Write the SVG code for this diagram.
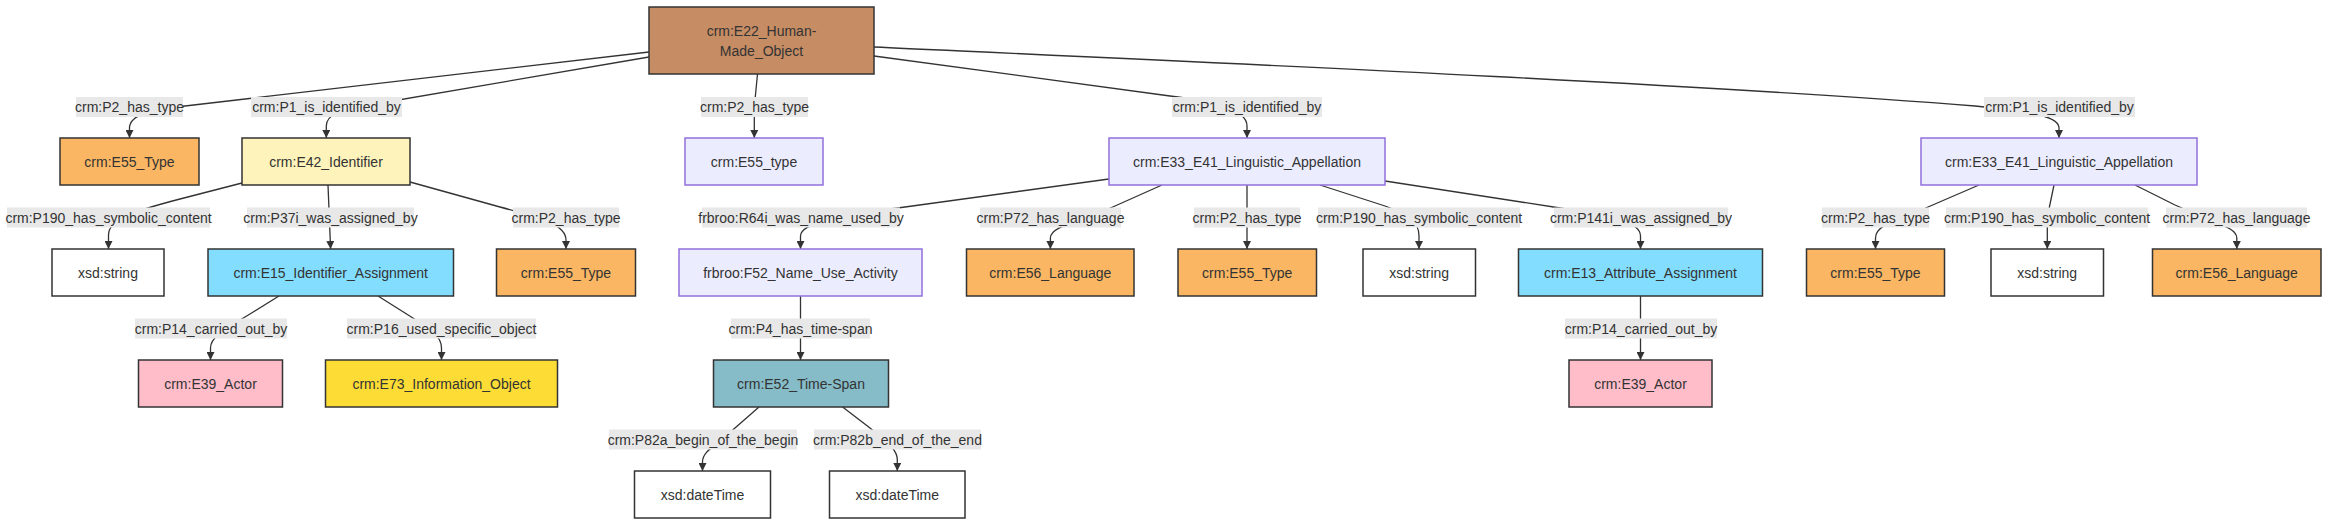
<svg xmlns="http://www.w3.org/2000/svg" width="2352" height="531" viewBox="0 0 2352 531">
<style>
text{font-family:"Liberation Sans",Arial,sans-serif;font-size:14px;fill:#333;text-anchor:middle}
.n{stroke:#333;stroke-width:1.5}
.lav{fill:#ECECFF;stroke:#9370DB;stroke-width:1.5}
.wht{fill:#FFFFFF}
.typ{fill:#FAB662}
.idf{fill:#FEF3BA}
.asg{fill:#82DDFF}
.act{fill:#FFBDCA}
.inf{fill:#FDDD35}
.tsp{fill:#86BBC8}
.hmo{fill:#C68C63}
.e{fill:none;stroke:#333;stroke-width:1.3;marker-end:url(#arr)}
.lb{fill:#E8E8E8}
</style>
<defs>
<marker id="arr" viewBox="0 0 10 10" refX="10" refY="5" markerUnits="userSpaceOnUse" markerWidth="8" markerHeight="8" orient="auto">
<path d="M0,0 L10,5 L0,10 z" fill="#333"/>
</marker>
</defs>
<g id="connectors">
<path class="e" d="M649,52 L185,106 C150,110 129.5,115 129.5,128 L129.5,138"/>
<path class="e" d="M649,57 L375,104 C340,110 326.3,114 326.3,126 L326.3,138"/>
<path class="e" d="M757.5,74 L754.3,107 L754.3,138"/>
<path class="e" d="M874,56 L1170,96 C1225,103 1247,112 1247,126 L1247,138"/>
<path class="e" d="M874,47 C1200,62 1700,84 1975,106 C2040,112 2059,118 2059,128 L2059,138"/>
<path class="e" d="M242,183 L180,199 C130,212 108.5,220 108.5,235 L108.5,249"/>
<path class="e" d="M328,185 L330.6,249"/>
<path class="e" d="M410,182 L500,207 C548,220 566,226 566,240 L566,249"/>
<path class="e" d="M279,296 L250,314 C220,332 210.5,338 210.5,348 L210.5,360"/>
<path class="e" d="M378,296 L405,313 C432,330 441.5,336 441.5,348 L441.5,360"/>
<path class="e" d="M1109,179 L905,207 C845,215 800.5,222 800.5,236 L800.5,249"/>
<path class="e" d="M1162,185 L1115,206 C1080,222 1050.4,226 1050.4,238 L1050.4,249"/>
<path class="e" d="M1247,185 L1247,249"/>
<path class="e" d="M1320,185 L1385,206 C1410,215 1419,222 1419,236 L1419,249"/>
<path class="e" d="M1385,181 L1560,208 C1615,217 1640.5,222 1640.5,236 L1640.5,249"/>
<path class="e" d="M1979,185 L1928,207 C1890,223 1875.5,226 1875.5,238 L1875.5,249"/>
<path class="e" d="M2054,185 L2047.3,217 L2047.3,249"/>
<path class="e" d="M2135,185 L2175,205 C2220,225 2236.8,228 2236.8,238 L2236.8,249"/>
<path class="e" d="M800.5,296 L800.5,360"/>
<path class="e" d="M1640.5,296 L1640.5,360"/>
<path class="e" d="M759,407 L735,428 C712,448 702.5,452 702.5,462 L702.5,471"/>
<path class="e" d="M842.6,407 L870,428 C890,445 897.3,450 897.3,460 L897.3,471"/>
</g>
<g id="edge-labels">
<rect class="lb" x="76" y="97" width="107" height="20"/><text x="129.5" y="112">crm:P2_has_type</text>
<rect class="lb" x="251" y="97" width="151" height="20"/><text x="326.5" y="112">crm:P1_is_identified_by</text>
<rect class="lb" x="701" y="97" width="107" height="20"/><text x="754.5" y="112">crm:P2_has_type</text>
<rect class="lb" x="1172" y="97" width="150" height="20"/><text x="1247" y="112">crm:P1_is_identified_by</text>
<rect class="lb" x="1984" y="97" width="151" height="20"/><text x="2059.5" y="112">crm:P1_is_identified_by</text>
<rect class="lb" x="7" y="207.5" width="203" height="20"/><text x="108.5" y="222.5">crm:P190_has_symbolic_content</text>
<rect class="lb" x="247" y="207.5" width="167" height="20"/><text x="330.5" y="222.5">crm:P37i_was_assigned_by</text>
<rect class="lb" x="513" y="207.5" width="106" height="20"/><text x="566" y="222.5">crm:P2_has_type</text>
<rect class="lb" x="702" y="207.5" width="198" height="20"/><text x="801" y="222.5">frbroo:R64i_was_name_used_by</text>
<rect class="lb" x="980" y="207.5" width="141" height="20"/><text x="1050.5" y="222.5">crm:P72_has_language</text>
<rect class="lb" x="1194" y="207.5" width="106" height="20"/><text x="1247" y="222.5">crm:P2_has_type</text>
<rect class="lb" x="1318" y="207.5" width="202" height="20"/><text x="1419" y="222.5">crm:P190_has_symbolic_content</text>
<rect class="lb" x="1554" y="207.5" width="174" height="20"/><text x="1641" y="222.5">crm:P141i_was_assigned_by</text>
<rect class="lb" x="1822" y="207.5" width="107" height="20"/><text x="1875.5" y="222.5">crm:P2_has_type</text>
<rect class="lb" x="1946" y="207.5" width="202" height="20"/><text x="2047" y="222.5">crm:P190_has_symbolic_content</text>
<rect class="lb" x="2166" y="207.5" width="141" height="20"/><text x="2236.5" y="222.5">crm:P72_has_language</text>
<rect class="lb" x="135" y="318.5" width="152" height="20"/><text x="211" y="333.5">crm:P14_carried_out_by</text>
<rect class="lb" x="347" y="318.5" width="189" height="20"/><text x="441.5" y="333.5">crm:P16_used_specific_object</text>
<rect class="lb" x="731" y="318.5" width="139" height="20"/><text x="800.5" y="333.5">crm:P4_has_time-span</text>
<rect class="lb" x="1565" y="318.5" width="152" height="20"/><text x="1641" y="333.5">crm:P14_carried_out_by</text>
<rect class="lb" x="609" y="429.5" width="188" height="20"/><text x="703" y="444.5">crm:P82a_begin_of_the_begin</text>
<rect class="lb" x="814" y="429.5" width="167" height="20"/><text x="897.5" y="444.5">crm:P82b_end_of_the_end</text>
</g>
<g id="n-e22"><rect class="n hmo" x="649" y="7" width="225" height="67"/><text x="761.5" y="36">crm:E22_Human-</text><text x="761.5" y="56">Made_Object</text></g>
<g id="n-e55-1"><rect class="n typ" x="60" y="138" width="139" height="47"/><text x="129.5" y="166.5">crm:E55_Type</text></g>
<g id="n-e42"><rect class="n idf" x="242" y="138" width="168" height="47"/><text x="326" y="166.5">crm:E42_Identifier</text></g>
<g id="n-e55-2"><rect class="lav" x="685" y="138" width="138" height="47"/><text x="754" y="166.5">crm:E55_type</text></g>
<g id="n-e33-1"><rect class="lav" x="1109" y="138" width="276" height="47"/><text x="1247" y="166.5">crm:E33_E41_Linguistic_Appellation</text></g>
<g id="n-e33-2"><rect class="lav" x="1921" y="138" width="276" height="47"/><text x="2059" y="166.5">crm:E33_E41_Linguistic_Appellation</text></g>
<g id="n-xsd-1"><rect class="n wht" x="52" y="249" width="112" height="47"/><text x="108" y="277.5">xsd:string</text></g>
<g id="n-e15"><rect class="n asg" x="208" y="249" width="245.5" height="47"/><text x="330.7" y="277.5">crm:E15_Identifier_Assignment</text></g>
<g id="n-e55-3"><rect class="n typ" x="496.5" y="249" width="139" height="47"/><text x="566" y="277.5">crm:E55_Type</text></g>
<g id="n-f52"><rect class="lav" x="679" y="249" width="243" height="47"/><text x="800.5" y="277.5">frbroo:F52_Name_Use_Activity</text></g>
<g id="n-e56-1"><rect class="n typ" x="966.5" y="249" width="167.5" height="47"/><text x="1050.3" y="277.5">crm:E56_Language</text></g>
<g id="n-e55-4"><rect class="n typ" x="1178" y="249" width="138.5" height="47"/><text x="1247.2" y="277.5">crm:E55_Type</text></g>
<g id="n-xsd-2"><rect class="n wht" x="1363" y="249" width="112.5" height="47"/><text x="1419.2" y="277.5">xsd:string</text></g>
<g id="n-e13"><rect class="n asg" x="1518.5" y="249" width="244" height="47"/><text x="1640.5" y="277.5">crm:E13_Attribute_Assignment</text></g>
<g id="n-e55-5"><rect class="n typ" x="1806.5" y="249" width="138" height="47"/><text x="1875.5" y="277.5">crm:E55_Type</text></g>
<g id="n-xsd-3"><rect class="n wht" x="1991" y="249" width="112.5" height="47"/><text x="2047.2" y="277.5">xsd:string</text></g>
<g id="n-e56-2"><rect class="n typ" x="2152.5" y="249" width="168.5" height="47"/><text x="2236.7" y="277.5">crm:E56_Language</text></g>
<g id="n-e39-1"><rect class="n act" x="138.5" y="360" width="144" height="47"/><text x="210.5" y="388.5">crm:E39_Actor</text></g>
<g id="n-e73"><rect class="n inf" x="325.5" y="360" width="232" height="47"/><text x="441.5" y="388.5">crm:E73_Information_Object</text></g>
<g id="n-e52"><rect class="n tsp" x="713.5" y="360" width="175" height="47"/><text x="801" y="388.5">crm:E52_Time-Span</text></g>
<g id="n-e39-2"><rect class="n act" x="1569" y="360" width="143" height="47"/><text x="1640.5" y="388.5">crm:E39_Actor</text></g>
<g id="n-dt-1"><rect class="n wht" x="634.5" y="471" width="136" height="47"/><text x="702.5" y="499.5">xsd:dateTime</text></g>
<g id="n-dt-2"><rect class="n wht" x="829.5" y="471" width="135.5" height="47"/><text x="897.3" y="499.5">xsd:dateTime</text></g>
</svg>
